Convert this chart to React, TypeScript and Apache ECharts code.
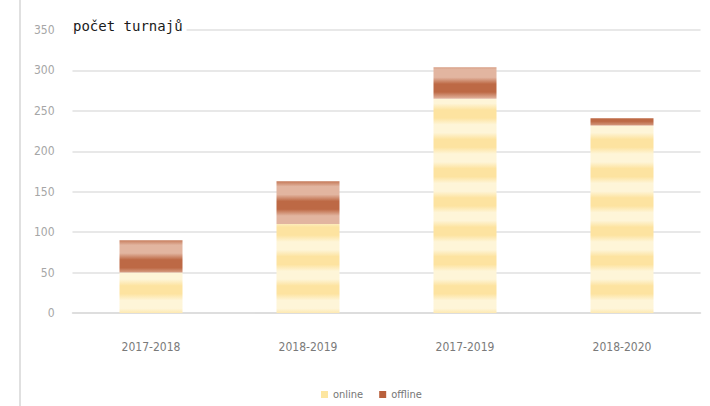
import React, { useEffect, useRef } from "react";
import * as echarts from "echarts";

const categories = ["2017-2018", "2018-2019", "2017-2019", "2018-2020"];
const onlineValues = [50, 110, 265, 232];
const offlineValues = [40, 53, 39, 9];
const seriesNames = ["online", "offline"];
const yTicks = { min: 0, max: 350, interval: 50 };
const titleText = "počet turnajů";

const H = 406;

function stripes(light: string, dark: string, phase: number, period: number, plateau: number) {
  const stops: { offset: number; color: string }[] = [];
  const half = period / 2;
  for (let k = -4; k < 20; k++) {
    const c = phase + k * period;
    const pts: [number, string][] = [
      [c - plateau, dark],
      [c + plateau, dark],
      [c + half - plateau, light],
      [c + half + plateau, light],
    ];
    for (const [p, col] of pts) {
      if (p >= 0 && p <= H) stops.push({ offset: p / H, color: col });
    }
  }
  stops.sort((a, b) => a.offset - b.offset);
  return new echarts.graphic.LinearGradient(0, 0, 0, H, stops, true as any);
}

export default function App() {
  const ref = useRef<HTMLDivElement>(null);
  useEffect(() => {
    if (!ref.current) return;
    const chart = echarts.init(ref.current, null, { renderer: "svg" });
    const labelFont = "'DejaVu Sans Condensed', 'DejaVu Sans', sans-serif";
    chart.setOption({
      animation: false,
      backgroundColor: "#ffffff",
      grid: { left: 72.5, right: 9.5, top: 30, bottom: 93, containLabel: false },
      legend: {
        left: 316,
        top: 384,
        icon: "rect",
        itemWidth: 7,
        itemHeight: 7,
        itemGap: 16,
        textStyle: { color: "#767676", fontSize: 11, fontFamily: labelFont },
        data: [
          { name: seriesNames[0], itemStyle: { color: "#fde6a0" } },
          { name: seriesNames[1], itemStyle: { color: "#b9603c" } },
        ],
      },
      xAxis: {
        type: "category",
        data: categories,
        axisLine: { show: true, lineStyle: { color: "#dadada", width: 1.5 } },
        axisTick: { show: false },
        axisLabel: {
          color: "#7a7a7a",
          fontSize: 12,
          margin: 28,
          fontFamily: labelFont,
        },
      },
      yAxis: {
        type: "value",
        min: yTicks.min,
        max: yTicks.max,
        interval: yTicks.interval,
        axisLine: { show: false },
        axisTick: { show: false },
        splitLine: { lineStyle: { color: "#e0e0e0", width: 1.5 } },
        axisLabel: {
          color: "#a6a6a6",
          fontSize: 12,
          margin: 18,
          fontFamily: labelFont,
        },
      },
      series: [
        {
          name: seriesNames[0],
          type: "bar",
          stack: "total",
          barWidth: 63,
          data: onlineValues,
          itemStyle: { color: stripes("#fef5d8", "#fde3a0", 114, 29.3, 4) },
        },
        {
          name: seriesNames[1],
          type: "bar",
          stack: "total",
          barWidth: 63,
          data: offlineValues,
          itemStyle: { color: stripes("#e2b5a0", "#bd6945", 88, 29.3, 4) },
        },
      ],
      graphic: [
        {
          type: "line",
          shape: { x1: 20, y1: 0, x2: 20, y2: H },
          style: { stroke: "#e0e0e0", lineWidth: 2 },
          z: 10,
        },
        {
          type: "text",
          left: 73,
          top: 19,
          z: 10,
          style: {
            text: titleText,
            fill: "#1a1a1a",
            fontSize: 14,
            fontFamily: "'DejaVu Sans Mono', monospace",
            backgroundColor: "#ffffff",
            padding: [0, 4, 0, 0],
          },
        },
      ],
    });
    return () => chart.dispose();
  }, []);
  return (
    <div
      ref={ref}
      style={{ position: "fixed", left: 0, top: 0, width: 710, height: 406 }}
    />
  );
}
